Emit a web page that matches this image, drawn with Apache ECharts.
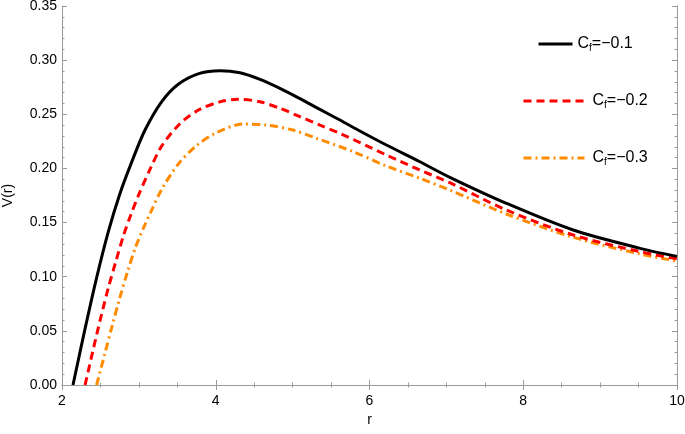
<!DOCTYPE html>
<html>
<head>
<meta charset="utf-8">
<script src="https://cdn.jsdelivr.net/npm/echarts@6/dist/echarts.min.js"></script>
<style>html,body{margin:0;padding:0;background:#fff}#c{width:685px;height:434px}</style>
</head>
<body>
<div id="c"></div>
<script>
// Data
var seriesNames = ['Cf=-0.1', 'Cf=-0.2', 'Cf=-0.3'];
var legendValues = ['=−0.1', '=−0.2', '=−0.3'];

var rBlack = [2.143, 2.30, 2.45, 2.60, 2.75, 2.91, 3.08, 3.30, 3.517, 3.79, 4.055, 4.315, 4.575, 4.835, 5.095, 5.355, 5.615, 5.85, 6.22, 6.655, 7.045, 7.78, 8.65, 9.52, 10.0];
var vBlack = [0, 0.052, 0.099, 0.141, 0.176, 0.2065, 0.2355, 0.262, 0.278, 0.2878, 0.2903, 0.2884, 0.2823, 0.274, 0.2645, 0.2545, 0.2447, 0.2355, 0.2216, 0.2062, 0.1918, 0.1678, 0.1431, 0.1262, 0.1188];

var rRed = [2.30, 2.40, 2.50, 2.60, 2.70, 2.80, 2.90, 3.00, 3.15, 3.30, 3.54, 3.79, 4.055, 4.29, 4.575, 4.835, 5.095, 5.355, 5.615, 6.22, 6.655, 7.045, 7.78, 8.65, 9.52, 10.0];
var vRed = [0, 0.031, 0.061, 0.089, 0.114, 0.138, 0.158, 0.176, 0.200, 0.221, 0.2417, 0.2545, 0.2615, 0.2638, 0.2616, 0.2555, 0.2478, 0.240, 0.2324, 0.2124, 0.1985, 0.1868, 0.1616, 0.1385, 0.1231, 0.1165];

var rOrange = [2.45, 2.55, 2.65, 2.75, 2.85, 2.95, 3.06, 3.15, 3.30, 3.52, 3.75, 3.99, 4.36, 4.66, 5.0, 5.31, 5.79, 6.22, 6.655, 7.045, 7.78, 8.65, 9.52, 10.0];
var vOrange = [0, 0.027, 0.054, 0.080, 0.104, 0.126, 0.145, 0.159, 0.181, 0.2047, 0.221, 0.2324, 0.241, 0.240, 0.2355, 0.2278, 0.2155, 0.2022, 0.1909, 0.180, 0.1579, 0.1364, 0.121, 0.1145];

var xTicks = [2, 4, 6, 8, 10];
var yTicks = [0, 0.05, 0.10, 0.15, 0.20, 0.25, 0.30, 0.35];

function pairs(r, v) { return r.map(function (x, i) { return [x, v[i]]; }); }

var FONT = 'Liberation Sans, Arial, sans-serif';
var frameColor = '#9a9a9a';
var richLegend = {
  a: { fontSize: 16, fontFamily: FONT, color: '#000' },
  s: { fontSize: 10, fontFamily: FONT, color: '#000', verticalAlign: 'bottom', padding: [9, 0, 0, 0] }
};
function legendFmt(name) {
  var i = seriesNames.indexOf(name);
  return '{a|C}{s|f}{a|' + legendValues[i] + '}';
}

var axisCommon = {
  type: 'value',
  axisLine: { show: true, lineStyle: { color: frameColor, width: 1 } },
  axisTick: { show: true, inside: true, length: 5, lineStyle: { color: frameColor } },
  splitLine: { show: false },
  minorSplitLine: { show: false }
};

function mkLegend(i, left, top, w, pad) {
  return {
    data: [seriesNames[i]], orient: 'vertical', left: left, top: top,
    itemWidth: w, itemHeight: 14, itemGap: 0,
    itemStyle: { opacity: 0 },
    lineStyle: { width: 3 },
    formatter: legendFmt,
    textStyle: { rich: richLegend, padding: [0, 0, 0, pad] }
  };
}

var chart = echarts.init(document.getElementById('c'), null, { renderer: 'canvas' });
chart.setOption({
  animation: false,
  backgroundColor: '#fff',
  grid: { left: 62, right: 8, top: 6, bottom: 49, outerBoundsMode: 'none', containLabel: false },
  legend: [
    mkLegend(0, 532, 31, 34, 0),
    mkLegend(1, 517, 88, 61, 3),
    mkLegend(2, 517, 145, 61, 3)
  ],
  xAxis: [
    Object.assign({}, axisCommon, {
      min: 2, max: 10, interval: 2, position: 'bottom',
      minorTick: { show: true, splitNumber: 4, length: 2.5, lineStyle: { color: frameColor } },
      name: 'r', nameLocation: 'middle', nameGap: 27,
      nameTextStyle: { fontSize: 14, fontFamily: FONT, color: '#000' },
      axisLabel: { show: true, margin: 9, fontSize: 14, fontFamily: FONT, color: '#000',
        customValues: xTicks, formatter: function (v) { return String(v); } }
    }),
    Object.assign({}, axisCommon, {
      min: 2, max: 10, interval: 2, position: 'top',
      minorTick: { show: true, splitNumber: 4, length: 2.5, lineStyle: { color: frameColor } },
      axisLabel: { show: false }
    })
  ],
  yAxis: [
    Object.assign({}, axisCommon, {
      min: 0, max: 0.35, interval: 0.05, position: 'left',
      minorTick: { show: true, splitNumber: 5, length: 2.5, lineStyle: { color: frameColor } },
      name: 'V(r)', nameLocation: 'middle', nameGap: 47, nameRotate: 90,
      nameTextStyle: { fontSize: 14, fontFamily: FONT, color: '#000' },
      axisLabel: { show: true, margin: 5, fontSize: 14, fontFamily: FONT, color: '#000',
        customValues: yTicks, formatter: function (v) { return v.toFixed(2); } }
    }),
    Object.assign({}, axisCommon, {
      min: 0, max: 0.35, interval: 0.05, position: 'right',
      minorTick: { show: true, splitNumber: 5, length: 2.5, lineStyle: { color: frameColor } },
      axisLabel: { show: false }
    })
  ],
  series: [
    { name: seriesNames[0], type: 'line', data: pairs(rBlack, vBlack), smooth: 0.3, symbol: 'none',
      lineStyle: { color: '#000', width: 3 }, itemStyle: { color: '#000' }, z: 3 },
    { name: seriesNames[1], type: 'line', data: pairs(rRed, vRed), smooth: 0.3, symbol: 'none',
      lineStyle: { color: '#ff0000', width: 3, type: [8, 5] }, itemStyle: { color: '#ff0000' }, z: 2 },
    { name: seriesNames[2], type: 'line', data: pairs(rOrange, vOrange), smooth: 0.3, symbol: 'none',
      lineStyle: { color: '#ff8c00', width: 3, type: [8, 4, 2, 4] }, itemStyle: { color: '#ff8c00' }, z: 1 }
  ]
});
</script>
</body>
</html>
